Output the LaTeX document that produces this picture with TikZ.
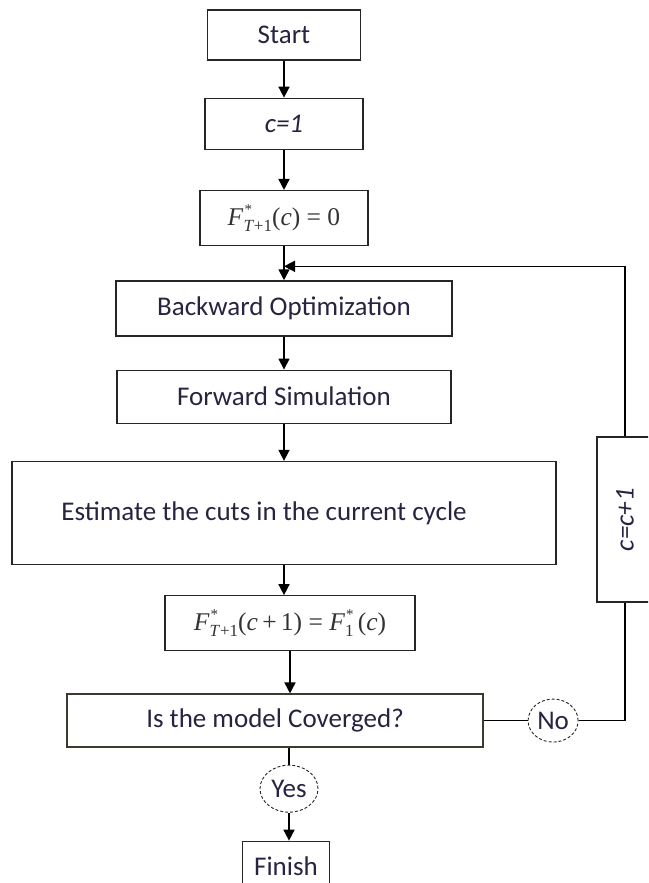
\documentclass[tikz,border=0pt]{standalone}
\usepackage{fontspec}
\usepackage{graphicx}
\setmainfont{Carlito}
\newfontfamily\tms{Liberation Serif}
\usetikzlibrary{arrows.meta, positioning, shapes.geometric}

\definecolor{inkblue}{RGB}{38,36,64}

% F with star and index, set by hand in a Times-like face
\newcommand{\Fstar}[1]{\textit{F}\makebox[0pt][l]{\hspace{1pt}\raisebox{11pt}{\fontsize{15}{15}\selectfont *}}%
  \raisebox{-6pt}{\fontsize{17}{17}\selectfont #1}}

\begin{document}
\begin{tikzpicture}[
    x=1pt, y=-1pt,
    box/.style={draw=black!85, line width=1.3pt, inner sep=0pt, align=center,
                font=\fontsize{27}{31}\selectfont, text=inkblue},
    formula/.style={box, font=\tms\fontsize{25.5}{28}\selectfont, text=black!80},
    decide/.style={ellipse, draw=black!85, densely dashed, line width=0.9pt,
                   inner sep=0pt, font=\fontsize{27}{31}\selectfont, text=inkblue},
    flow/.style={line width=1.6pt, -{Triangle[length=11pt, width=11pt]}},
    wire/.style={line width=1.6pt}
  ]
  \clip (0,0) rectangle (648,883);

  % main column
  \node[box, minimum width=153pt, minimum height=50pt] (start) at (284,35) {Start};
  \node[box, minimum width=158pt, minimum height=51pt, below=37pt of start]
    (cone) {\itshape c=1};
  \node[formula, minimum width=168pt, minimum height=55pt, below=40pt of cone]
    (fzero) {\Fstar{\textit{T}+1}(\textit{c}) = 0};
  \node[box, minimum width=336pt, minimum height=55pt, below=34pt of fzero]
    (back) {Backward Optimization};
  \node[box, minimum width=334pt, minimum height=53pt, below=33pt of back]
    (fwd) {Forward Simulation};
  \node[box, minimum width=544pt, minimum height=103pt, below=37pt of fwd]
    (est) {\hspace*{-40pt}Estimate the cuts in the current cycle};
  \node[formula, minimum width=250pt, minimum height=55pt, below=30pt of est,
        xshift=6pt] (fc) {\Fstar{\textit{T}+1}(\textit{c}\,+\,1) = \Fstar{1}\,(\textit{c})};
  \node[box, draw=black!75!olive, minimum width=416pt, minimum height=53pt,
        below=42pt of fc, xshift=-15pt] (conv) {Is the model Coverged?};

  % decisions
  \node[decide, minimum width=58pt, minimum height=47pt, below=17pt of conv,
        xshift=14pt] (yes) {Yes};
  \node[box, minimum width=87pt, minimum height=50pt, below=28pt of yes,
        xshift=-3pt] (finish) {Finish};
  \node[decide, minimum width=50pt, minimum height=43pt, right=44pt of conv]
    (no) {No};
  \node[box, minimum width=56pt, minimum height=165pt] (inc) at (625,519.5)
    {\rotatebox{90}{\itshape c=c+1}};

  % connectors
  \draw[flow] (start) -- (cone);
  \draw[flow] (cone) -- (fzero);
  \draw[flow] (fzero) -- (back);
  \draw[flow] (back) -- (fwd);
  \draw[flow] (fwd) -- (est);
  \draw[flow] (est.south) -- (est.south |- fc.north);
  \draw[flow] (fc.south) -- (fc.south |- conv.north);
  \draw[wire] (yes.north |- conv.south) -- (yes.north);
  \draw[flow] (yes.south) -- (yes.south |- finish.north);

  % loop back
  \path (fzero.south) -- coordinate[pos=0.59] (join) (back.north);
  \draw[wire] (conv.east) -- (no.west);
  \draw[wire] (no.east) -| (inc.south);
  \draw[flow] (inc.north) |- (join);

\end{tikzpicture}
\end{document}
